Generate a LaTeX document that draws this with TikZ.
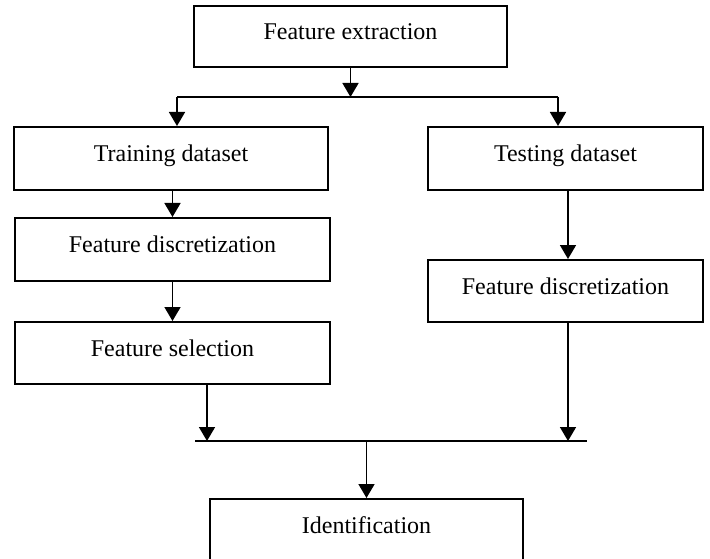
\documentclass[tikz,border=0pt]{standalone}
\usepackage{fontspec}
\setmainfont{Liberation Serif}
\usetikzlibrary{positioning}
\usetikzlibrary{arrows.meta}
\tikzset{
    mybox/.style = {rectangle, draw=black, line width=2pt, align=center, fill=white, inner sep=0pt, font=\fontsize{24}{28}\selectfont, text height=17pt, text depth=11pt},
    edgen/.style = {-, line width=1.7pt, black},
    edgea/.style = {-{Triangle[length=14pt,width=16pt]}, line width=1.7pt, black}, % arrow
}

\begin{document}
\begin{tikzpicture}[x=1pt,y=-1pt]
\useasboundingbox (0,0) rectangle (710,559);
\node[mybox, minimum width=313pt, minimum height=61pt] at (350.5, 36.5) (fe) {Feature extraction};
\node[mybox, minimum width=314pt, minimum height=63pt] at (171.0, 158.5) (train) {Training dataset};
\node[mybox, minimum width=275pt, minimum height=63pt] at (565.5, 158.5) (test) {Testing dataset};
\node[mybox, minimum width=315pt, minimum height=63pt] at (172.5, 249.5) (discl) {Feature discretization};
\node[mybox, minimum width=315pt, minimum height=62pt] at (172.5, 353.0) (sel) {Feature selection};
\node[mybox, minimum width=275pt, minimum height=62pt] at (565.5, 291.0) (discr) {Feature discretization};
\node[mybox, minimum width=313pt, minimum height=62pt] at (366.5, 530.0) (ident) {Identification};

\coordinate (splitl) at (177, 97);
\coordinate (splitr) at (558, 97);
\coordinate (joinl) at (195, 441);
\coordinate (joinr) at (587, 441);
\coordinate (joinc) at (366.5, 441);

% split
\draw[edgea] (fe) -- (fe |- splitl);
\draw[edgen] (splitl) -- (splitr);
\draw[edgea] (splitl) -- (splitl |- train.north);
\draw[edgea] (splitr) -- (splitr |- test.north);

% training branch
\draw[edgea] (discl.north |- train.south) -- (discl);
\draw[edgea] (discl) -- (sel);
\draw[edgea] (207, 0 |- sel.south) -- (207, 0 |- joinl);

% testing branch
\draw[edgea] (568, 0 |- test.south) -- (568, 0 |- discr.north);
\draw[edgea] (568, 0 |- discr.south) -- (568, 0 |- joinr);

% join
\draw[edgen] (joinl) -- (joinr);
\draw[edgea] (joinc) -- (ident);

\end{tikzpicture}
\end{document}
